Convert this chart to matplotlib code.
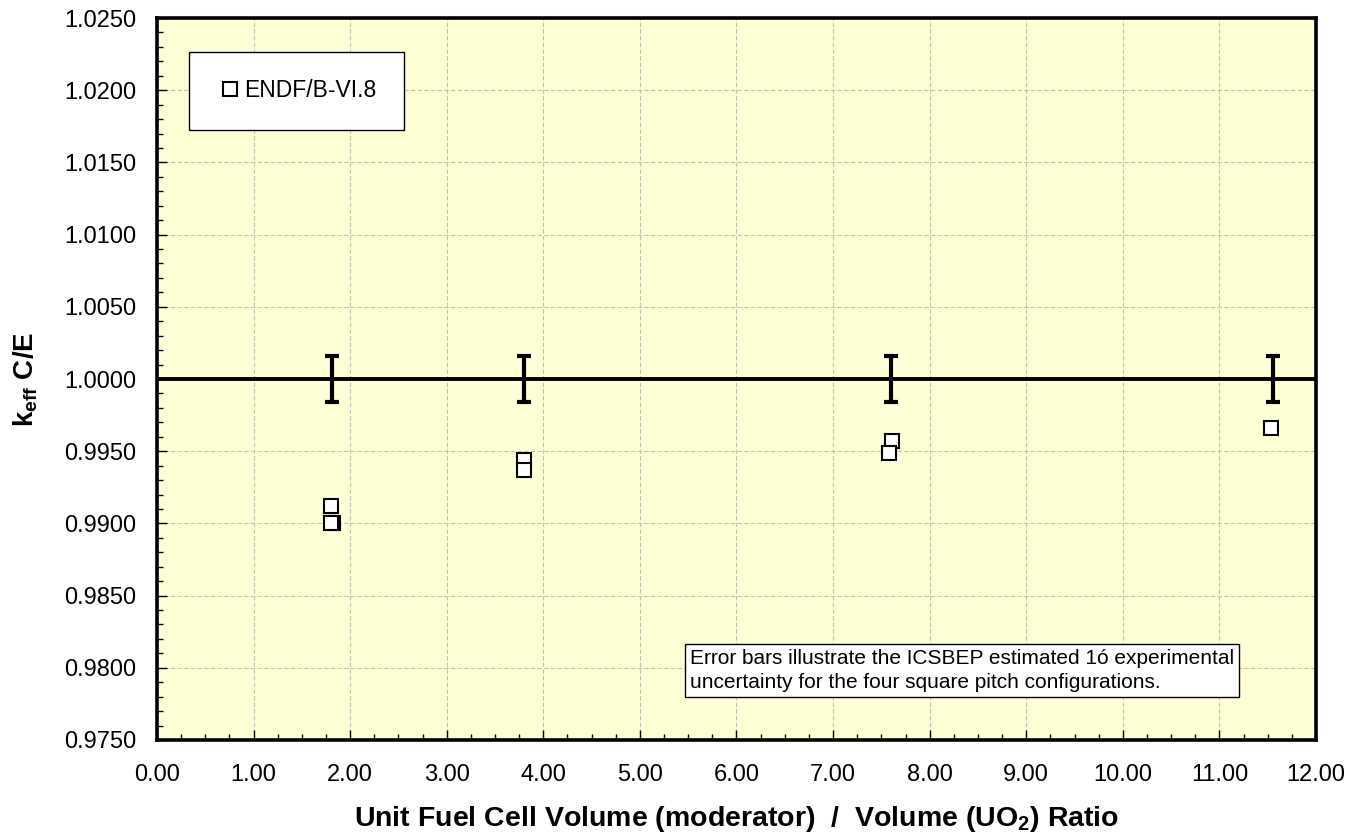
import matplotlib
matplotlib.use("Agg")
import matplotlib.pyplot as plt
from matplotlib.ticker import MultipleLocator, FormatStrFormatter

plt.rcParams['font.family'] = ['Liberation Sans', 'DejaVu Sans']
plt.rcParams['mathtext.fontset'] = 'custom'
plt.rcParams['mathtext.rm'] = 'Liberation Sans'
plt.rcParams['mathtext.bf'] = 'Liberation Sans:bold'

# Data
ratio = [1.80, 1.82, 1.80, 3.80, 3.80, 7.61, 7.58, 11.53]
keff_ce = [0.9912, 0.9900, 0.9900, 0.9944, 0.9937, 0.9957, 0.9949, 0.9966]
err_x = [1.81, 3.80, 7.60, 11.55]
err_y = [1.0, 1.0, 1.0, 1.0]
err_unc = [0.0016, 0.0016, 0.0016, 0.0016]
series_label = "ENDF/B-VI.8"

fig = plt.figure(figsize=(13.5, 8.35), dpi=100)
ax = fig.add_axes([0.1163, 0.1138, 0.8585, 0.8646])
ax.set_facecolor('#FFFFD6')

ax.set_xlim(0, 12)
ax.set_ylim(0.975, 1.025)
ax.xaxis.set_major_locator(MultipleLocator(1.0))
ax.xaxis.set_minor_locator(MultipleLocator(0.25))
ax.yaxis.set_major_locator(MultipleLocator(0.005))
ax.yaxis.set_minor_locator(MultipleLocator(0.001))
ax.xaxis.set_major_formatter(FormatStrFormatter('%.2f'))
ax.yaxis.set_major_formatter(FormatStrFormatter('%.4f'))
ax.grid(True, which='major', color='#C4C4AE', linestyle=(0, (4, 2)), linewidth=0.8)
ax.set_axisbelow(True)

ax.tick_params(which='both', direction='in', top=False, right=False, labelsize=17)
ax.tick_params(axis='x', which='both', pad=17)
ax.tick_params(axis='y', which='both', pad=15)
ax.tick_params(which='major', length=7, width=1.0)
ax.tick_params(which='minor', length=4, width=1.0)
for s in ax.spines.values():
    s.set_linewidth(2.6)

ax.axhline(1.0, color='black', linewidth=2.8, zorder=3)
ax.errorbar(err_x, err_y, yerr=err_unc, fmt='none', ecolor='black', elinewidth=3.0,
            capsize=5, capthick=3.0, zorder=4)
ax.plot(ratio, keff_ce, linestyle='none', marker='s', markersize=9.5,
        markerfacecolor='white', markeredgecolor='black', markeredgewidth=1.5,
        label=series_label, zorder=5)

leg = ax.legend(loc='upper left', bbox_to_anchor=(0.0276, 0.953), fontsize=16.5,
                frameon=True, fancybox=False, edgecolor='black', framealpha=1.0,
                handlelength=1.2, handletextpad=0.0, borderpad=1.2, borderaxespad=0)
leg.get_frame().set_linewidth(1.0)

ax.text(0.460, 0.067,
        "Error bars illustrate the ICSBEP estimated 1ó experimental\n"
        "uncertainty for the four square pitch configurations.",
        transform=ax.transAxes, fontsize=15, va='bottom', ha='left', linespacing=1.3,
        bbox=dict(boxstyle='square,pad=0.25', facecolor='white', edgecolor='black', linewidth=1.0))

ax.set_xlabel(r"Unit Fuel Cell Volume (moderator)  /  Volume (UO$_\mathbf{2}$) Ratio",
              fontsize=20.5, fontweight='bold')
ax.xaxis.set_label_coords(0.5, -0.088)
ax.set_ylabel(r"k$_\mathbf{eff}$ C/E", fontsize=20, fontweight='bold')
ax.yaxis.set_label_coords(-0.101, 0.5)

fig.savefig("out.png", dpi=100)
